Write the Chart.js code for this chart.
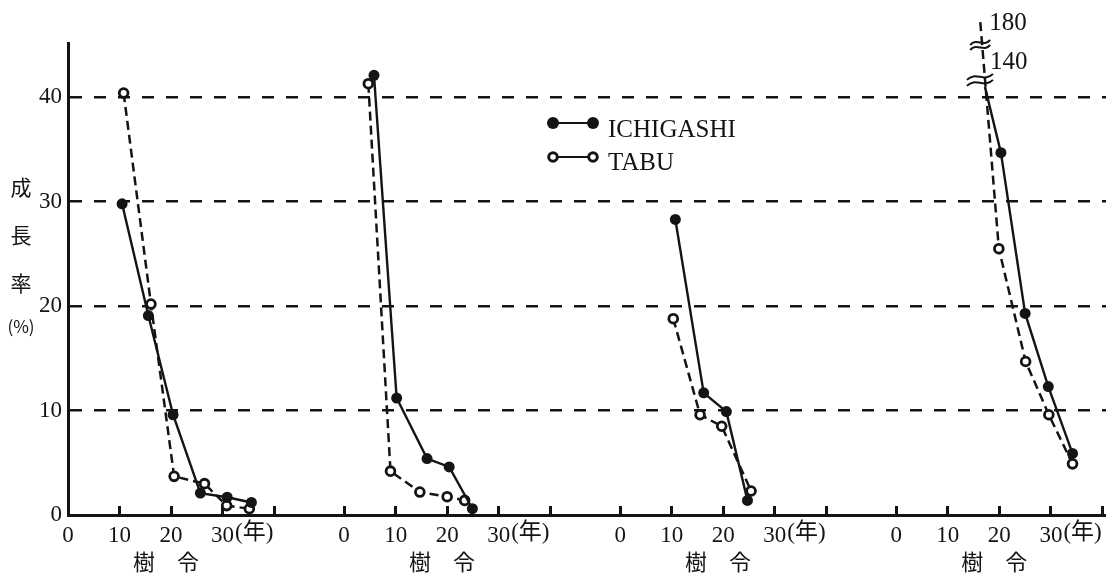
<!DOCTYPE html>
<html>
<head>
<meta charset="utf-8">
<script src="https://cdn.jsdelivr.net/npm/chart.js@4/dist/chart.umd.min.js"></script>
<style>
  html, body { margin: 0; padding: 0; background: #ffffff; }
  #wrap { width: 1106px; height: 575px; }
</style>
</head>
<body>
<div id="wrap"><canvas id="c" width="1106" height="575"></canvas></div>
<script>
// ---------------- data ----------------
const seriesNames = ['ICHIGASHI', 'TABU'];
const xTickAges = [0, 10, 20, 30, 40];
const xTickLabels = ['0', '10', '20', '30', ''];
const xUnitSuffix = '(年)';
const xTitle = '樹　令';
const yTitleChars = ['成', '長', '率', '(%)'];
const yTicks = [0, 10, 20, 30, 40];

// panel 1
const ichigashiAge1  = [10.5, 15.6, 20.4, 25.7, 30.9, 35.6];
const ichigashiRate1 = [29.8, 19.1, 9.6, 2.1, 1.7, 1.2];
const tabuAge1       = [10.8, 16.1, 20.6, 26.5, 30.8, 35.2];
const tabuRate1      = [40.4, 20.2, 3.7, 3.0, 0.9, 0.6];
// panel 2
const ichigashiAge2  = [5.8, 10.2, 16.1, 20.4, 24.9];
const ichigashiRate2 = [42.1, 11.2, 5.4, 4.6, 0.6];
const tabuAge2       = [4.7, 9.0, 14.7, 20.0, 23.4];
const tabuRate2      = [41.3, 4.2, 2.2, 1.75, 1.4];
// panel 3
const ichigashiAge3  = [10.7, 16.2, 20.6, 24.7];
const ichigashiRate3 = [28.3, 11.7, 9.9, 1.4];
const tabuAge3       = [10.3, 15.5, 19.7, 25.4];
const tabuRate3      = [18.8, 9.6, 8.5, 2.3];
// panel 4 (first values are off-scale, shown on a broken axis)
const ichigashiAge4  = [17.2, 20.3, 25.0, 29.5, 34.2];
const ichigashiRate4 = [140, 34.7, 19.3, 12.3, 5.9];
const tabuAge4       = [16.3, 19.9, 25.1, 29.6, 34.2];
const tabuRate4      = [180, 25.5, 14.7, 9.6, 4.9];

// where the off-scale values sit on the broken axis
const brokenAxisAt = { 140: 41.0, 180: 47.2 };

// ---------------- layout ----------------
const PANEL_SPAN = 53.6;
const X_MAX = 201.5;
const Y_MAX = 45.2;
const BLACK = '#141414';
const SERIF = '"Liberation Serif", "Noto Sans CJK JP", serif';
const CJK = '"Noto Sans CJK JP", sans-serif';

const panels = [
  [ichigashiAge1, ichigashiRate1, tabuAge1, tabuRate1],
  [ichigashiAge2, ichigashiRate2, tabuAge2, tabuRate2],
  [ichigashiAge3, ichigashiRate3, tabuAge3, tabuRate3],
  [ichigashiAge4, ichigashiRate4, tabuAge4, tabuRate4]
];

function panelData(p, ages, rates) {
  return ages.map((a, i) => ({
    x: p * PANEL_SPAN + a,
    y: brokenAxisAt[rates[i]] !== undefined ? brokenAxisAt[rates[i]] : rates[i],
    value: rates[i]
  }));
}
function isBroken(ctx) {
  return ctx && ctx.raw && brokenAxisAt[ctx.raw.value] !== undefined;
}

const datasets = [];
panels.forEach((pp, p) => {
  datasets.push({
    label: seriesNames[0],
    data: panelData(p, pp[0], pp[1]),
    borderColor: BLACK,
    borderWidth: 2.4,
    pointRadius: ctx => isBroken(ctx) ? 0 : 5.5,
    pointBackgroundColor: BLACK,
    pointBorderColor: BLACK,
    pointBorderWidth: 0,
    tension: 0,
    clip: false,
    panel: p
  });
  datasets.push({
    label: seriesNames[1],
    data: panelData(p, pp[2], pp[3]),
    borderColor: BLACK,
    borderWidth: 2.5,
    borderDash: [9, 5],
    pointRadius: ctx => isBroken(ctx) ? 0 : 4.4,
    pointBackgroundColor: '#ffffff',
    pointBorderColor: BLACK,
    pointBorderWidth: 2.8,
    tension: 0,
    clip: false,
    panel: p
  });
});

// ---------------- extra drawing ----------------
function breakMark(ctx, cx, cy, w, h, gap) {
  ctx.save();
  ctx.strokeStyle = BLACK;
  ctx.lineWidth = 2;
  ctx.setLineDash([]);
  for (const off of [-gap / 2, gap / 2]) {
    ctx.beginPath();
    ctx.moveTo(cx - w, cy + h + off);
    ctx.bezierCurveTo(cx - w / 3, cy - h * 2 + off, cx + w / 3, cy + h * 2 + off, cx + w, cy - h + off);
    ctx.stroke();
  }
  ctx.restore();
}

const decorations = {
  id: 'decorations',
  afterDraw(chart) {
    const ctx = chart.ctx;
    const xs = chart.scales.x;
    ctx.save();
    ctx.fillStyle = BLACK;
    ctx.strokeStyle = BLACK;

    // "(年)" after every 30 tick label
    ctx.font = '23px ' + SERIF;
    const w30 = ctx.measureText('30').width;
    ctx.textAlign = 'left';
    ctx.textBaseline = 'middle';
    for (let p = 0; p < panels.length; p++) {
      const px = xs.getPixelForValue(p * PANEL_SPAN + 30);
      ctx.fillText(xUnitSuffix, px + w30 / 2 + 1, 533);
    }

    // x titles
    ctx.font = '22px ' + CJK;
    ctx.textAlign = 'center';
    for (let p = 0; p < panels.length; p++) {
      const px = xs.getPixelForValue(p * PANEL_SPAN + 19);
      ctx.fillText(xTitle, px, 562);
    }

    // y title (vertical, stacked)
    const yCenters = [187, 235, 283, 327];
    yTitleChars.forEach((ch, i) => {
      ctx.font = (ch.length > 1 ? '17px ' : '21px ') + CJK;
      ctx.fillText(ch, 21, yCenters[i]);
    });

    // legend
    const lx0 = 553, lx1 = 593, tx = 608;
    ctx.lineWidth = 2.2;
    ctx.beginPath(); ctx.moveTo(lx0, 123); ctx.lineTo(lx1, 123); ctx.stroke();
    ctx.beginPath(); ctx.arc(lx0, 123, 6, 0, Math.PI * 2); ctx.fill();
    ctx.beginPath(); ctx.arc(lx1, 123, 6, 0, Math.PI * 2); ctx.fill();
    ctx.beginPath(); ctx.moveTo(lx0, 157); ctx.lineTo(lx1, 157); ctx.stroke();
    ctx.lineWidth = 3;
    for (const cx of [lx0, lx1]) {
      ctx.beginPath(); ctx.arc(cx, 157, 4.3, 0, Math.PI * 2);
      ctx.fillStyle = '#ffffff'; ctx.fill(); ctx.stroke();
    }
    ctx.fillStyle = BLACK;
    ctx.font = '25px ' + SERIF;
    ctx.textAlign = 'left';
    ctx.textBaseline = 'alphabetic';
    ctx.fillText(seriesNames[0], tx, 137);
    ctx.fillText(seriesNames[1], tx, 170);

    // broken-axis marks and labels (panel 4)
    const ichMeta = chart.getDatasetMeta(6);
    const tabMeta = chart.getDatasetMeta(7);
    const ip = ichMeta.data[0];
    const tp = tabMeta.data[0];
    const tp2 = tabMeta.data[1];
    breakMark(ctx, ip.x - 5, ip.y - 7, 13, 3, 6);
    const by = 45;
    const bx = tp.x + (tp2.x - tp.x) * (by - tp.y) / (tp2.y - tp.y);
    breakMark(ctx, bx - 2, by, 10, 2.5, 5);
    ctx.font = '25px ' + SERIF;
    ctx.textAlign = 'left';
    ctx.textBaseline = 'middle';
    ctx.fillText(String(ichigashiRate4[0]), ip.x + 5, ip.y - 24);
    ctx.fillText(String(tabuRate4[0]), tp.x + 9, tp.y + 1);
    ctx.restore();
  }
};

// ---------------- chart ----------------
new Chart(document.getElementById('c'), {
  type: 'line',
  data: { datasets },
  plugins: [decorations],
  options: {
    responsive: false,
    devicePixelRatio: 1,
    animation: false,
    events: [],
    layout: { autoPadding: false, padding: { top: 43, right: 0, left: 0, bottom: 0 } },
    plugins: { legend: { display: false }, tooltip: { enabled: false } },
    scales: {
      x: {
        type: 'linear',
        min: 0,
        max: X_MAX,
        afterBuildTicks(scale) {
          const t = [];
          for (let p = 0; p < panels.length; p++) xTickAges.forEach(a => t.push({ value: p * PANEL_SPAN + a }));
          scale.ticks = t;
        },
        afterFit(scale) {
          scale.height = 60;
          scale.paddingLeft = 0;
          scale.paddingRight = 0;
        },
        ticks: {
          autoSkip: false,
          maxRotation: 0,
          padding: 16,
          color: BLACK,
          font: { family: SERIF, size: 23 },
          callback: (v, i) => xTickLabels[i % xTickLabels.length]
        },
        grid: {
          drawOnChartArea: false,
          drawTicks: true,
          tickLength: -9,
          tickWidth: 3,
          tickColor: BLACK,
          color: BLACK,
          lineWidth: 1
        },
        border: { display: true, color: BLACK, width: 3 }
      },
      y: {
        type: 'linear',
        min: 0,
        max: Y_MAX,
        afterBuildTicks(scale) { scale.ticks = yTicks.map(v => ({ value: v })); },
        afterFit(scale) {
          scale.width = 68;
          scale.paddingTop = 0;
          scale.paddingBottom = 0;
        },
        ticks: {
          padding: 6,
          color: BLACK,
          font: { family: SERIF, size: 23 },
          callback: v => String(v)
        },
        grid: {
          drawTicks: false,
          lineWidth: 2.5,
          color: ctx => (ctx.tick && ctx.tick.value === 0) ? 'rgba(0,0,0,0)' : BLACK
        },
        border: { display: true, color: BLACK, width: 3, dash: [12, 12] }
      }
    }
  }
});
</script>
</body>
</html>
